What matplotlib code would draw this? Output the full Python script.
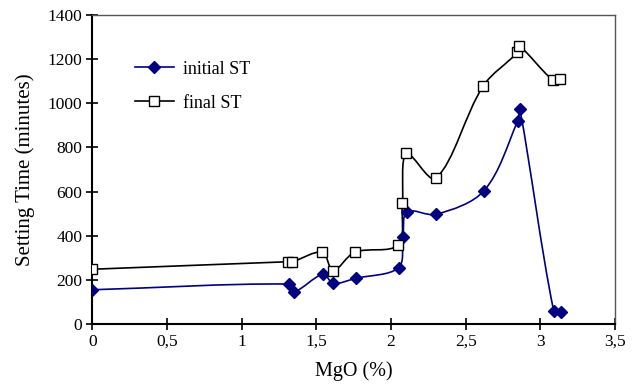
import numpy as np
import matplotlib
matplotlib.use("Agg")
import matplotlib.pyplot as plt
from matplotlib.path import Path
from matplotlib.patches import PathPatch
from matplotlib.lines import Line2D
from matplotlib.ticker import FuncFormatter

plt.rcParams['font.family'] = ['Liberation Serif', 'DejaVu Serif']

# Data
mgo_initial = [0.0, 1.318, 1.351, 1.547, 1.613, 1.765, 2.051, 2.080, 2.107, 2.302, 2.623, 2.849, 2.863, 3.089, 3.140]
st_initial = [155, 181, 145, 226, 184, 207, 255, 396, 509, 497, 604, 921, 974, 60, 53]

mgo_final = [0.0, 1.309, 1.340, 1.540, 1.613, 1.757, 2.047, 2.076, 2.104, 2.300, 2.617, 2.847, 2.858, 3.084, 3.133]
st_final = [248, 282, 282, 325, 242, 325, 358, 547, 773, 660, 1078, 1231, 1261, 1105, 1111]

x_ticks = [0, 0.5, 1, 1.5, 2, 2.5, 3, 3.5]
y_ticks = [0, 200, 400, 600, 800, 1000, 1200, 1400]

NAVY = '#000080'


def smooth_path(ax, xs, ys):
    """Smoothed line through the points (cubic Beziers computed in display space)."""
    p = ax.transData.transform(np.column_stack([xs, ys]).astype(float))
    n = len(p)
    seg = [np.hypot(*(p[i + 1] - p[i])) for i in range(n - 1)]
    verts = [p[0]]
    codes = [Path.MOVETO]
    t = 1.0 / 3.0
    for i in range(n - 1):
        p1, p2 = p[i], p[i + 1]
        L12 = seg[i]
        if i > 0:
            L01 = seg[i - 1]
            c1 = p1 + (p2 - p[i - 1]) * L12 / (L01 + L12) * t
        else:
            c1 = p1 + (p2 - p1) * t
        if i + 2 < n:
            L23 = seg[i + 1]
            c2 = p2 - (p[i + 2] - p1) * L12 / (L12 + L23) * t
        else:
            c2 = p2 - (p2 - p1) * t
        verts += [c1, c2, p2]
        codes += [Path.CURVE4] * 3
    verts = ax.transData.inverted().transform(np.array(verts))
    return Path(verts, codes)


fig = plt.figure(figsize=(6.38, 3.91), dpi=100)
ax = fig.add_axes([0.1445, 0.1714, 0.8195, 0.7902])
ax.set_xlim(0, 3.5)
ax.set_ylim(0, 1400)

ax.add_patch(PathPatch(smooth_path(ax, mgo_final, st_final), facecolor='none',
                       edgecolor='black', lw=1.2, zorder=2))
ax.add_patch(PathPatch(smooth_path(ax, mgo_initial, st_initial), facecolor='none',
                       edgecolor=NAVY, lw=1.2, zorder=2))

ax.plot(mgo_initial, st_initial, linestyle='none', marker='D', ms=6,
        mfc=NAVY, mec=NAVY, zorder=3)
ax.plot(mgo_final, st_final, linestyle='none', marker='s', ms=7,
        mfc='white', mec='black', mew=1.0, zorder=3)

ax.set_xticks(x_ticks)
ax.set_yticks(y_ticks)
ax.xaxis.set_major_formatter(FuncFormatter(lambda v, p: ('%g' % v).replace('.', ',')))
ax.tick_params(axis='both', direction='inout', length=8, width=1.2, labelsize=12.5,
               pad=3)

for s in ['left', 'bottom']:
    ax.spines[s].set_linewidth(1.5)
    ax.spines[s].set_color('black')
for s in ['top', 'right']:
    ax.spines[s].set_linewidth(1.0)
    ax.spines[s].set_color('#555555')

ax.set_xlabel('MgO (%)', fontsize=14.5, labelpad=8)
ax.set_ylabel('Setting Time (minutes)', fontsize=15, labelpad=9)

handles = [
    Line2D([], [], color=NAVY, lw=1.2, marker='D', ms=6, mfc=NAVY, mec=NAVY),
    Line2D([], [], color='black', lw=1.2, marker='s', ms=7, mfc='white', mec='black'),
]
ax.legend(handles, ['initial ST', 'final ST'], loc='upper left',
          bbox_to_anchor=(0.05, 0.905), frameon=False, fontsize=13,
          handlelength=2.2, handletextpad=0.5, labelspacing=0.95)

fig.savefig('out.png', dpi=100)
